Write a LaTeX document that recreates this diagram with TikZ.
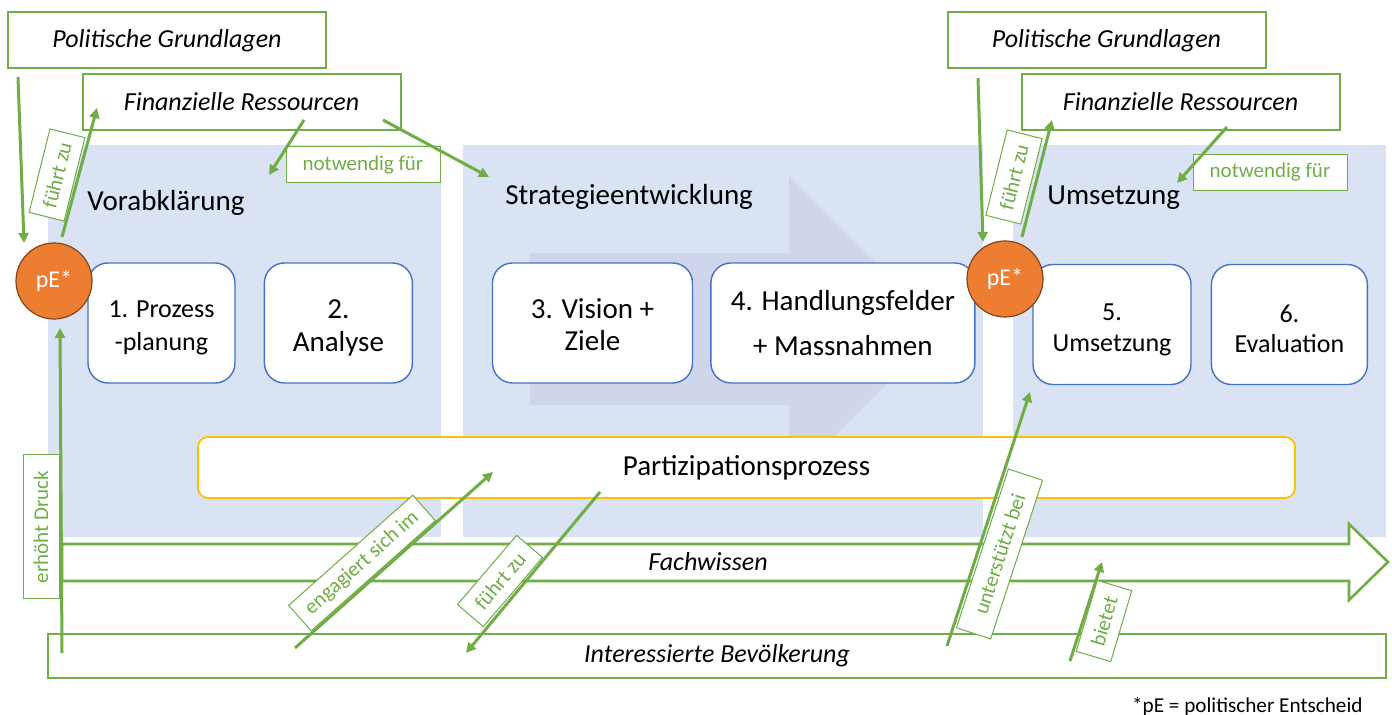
\documentclass[tikz,border=0pt]{standalone}
\usepackage{fontspec}
\setmainfont{Carlito}
\usepackage{xcolor}
\usetikzlibrary{shapes,arrows.meta,positioning}

\definecolor{ogreen}{HTML}{70AD47}
\definecolor{paneblue}{HTML}{DAE3F3}
\definecolor{phaseblue}{HTML}{CFD6EB}
\definecolor{boxblue}{HTML}{4472C4}
\definecolor{ogold}{HTML}{FFC000}
\definecolor{oorange}{HTML}{ED7D31}

\newcommand{\setfs}[2]{\fontsize{#1}{#2}\selectfont}
\newcommand{\lift}[1]{\rule{0pt}{#1}}

\tikzset{
  topbox/.style={rectangle, draw=ogreen, line width=1pt, fill=white, minimum width=159pt, minimum height=28pt, font=\setfs{13}{15}\itshape},
  stepbox/.style={rectangle, rounded corners=10pt, draw=boxblue, line width=0.7pt, fill=white, minimum height=60pt, align=center},
  lbl/.style={rectangle, draw=ogreen, line width=0.5pt, fill=white, text=ogreen, minimum height=18pt, inner sep=1pt, font=\setfs{10.5}{12}},
  flow/.style={draw=ogreen, line width=1.5pt, -{Triangle[length=5pt,width=5pt]}},
  decision/.style={circle, draw=oorange!55!black, fill=oorange, line width=0.6pt, minimum size=38pt, inner sep=0pt, text=white, font=\setfs{12}{14}},
  phase/.style={anchor=base west, inner sep=0pt, font=\setfs{14.5}{17}},
}

\begin{document}
\begin{tikzpicture}[x=0.5pt, y=-0.5pt]
\useasboundingbox (0,0) rectangle (1392,715);

\fill[paneblue] (48,145) rectangle (441,537);
\fill[paneblue] (463,145) rectangle (983,537);
\fill[paneblue] (1013,145) rectangle (1386,537);
\fill[phaseblue] (530,253) -- (789,253) -- (789,176) -- (942,329) -- (789,482) -- (789,405) -- (530,405) -- cycle;

\node (t1) [phase] at (87,211) {Vorabklärung};
\node (t2) [phase] at (505,205) {Strategieentwicklung};
\node (t3) [phase] at (1047,205) {Umsetzung};

\node (s1) [stepbox, minimum width=73.5pt, font=\setfs{13}{16.5}] at (161.5,323) {\lift{13.5pt}1. Prozess\\-planung};
\node (s2) [stepbox, minimum width=74pt, font=\setfs{14.5}{16.5}, right=14pt of s1] {\lift{14pt}2.\\Analyse};
\node (s3) [stepbox, minimum width=100pt, font=\setfs{14.5}{16}] at (592.5,323) {\lift{12pt}3. Vision +\\Ziele};
\node (s4) [stepbox, minimum width=132pt, font=\setfs{14.5}{22.5}, right=8.5pt of s3] {4. Handlungsfelder\\+ Massnahmen};
\node (s5) [stepbox, minimum width=79pt, font=\setfs{13}{15.5}] at (1112,324.5) {\lift{13.5pt}5.\\Umsetzung};
\node (s6) [stepbox, minimum width=78pt, font=\setfs{13}{15}, right=9.5pt of s5] {\lift{13pt}6.\\Evaluation};

\node (part) [rectangle, rounded corners=5pt, draw=ogold, line width=0.9pt, fill=white, minimum width=548.5pt, minimum height=30.5pt, font=\setfs{14.5}{17}] at (746.5,467.5) {Partizipationsprozess};

\draw[ogreen, line width=1.3pt, fill=white] (62,544) -- (1349,544) -- (1349,524) -- (1388,562) -- (1349,600) -- (1349,581) -- (62,581) -- cycle;
\node (fach) [font=\setfs{13}{15}\itshape] at (708,562) {Fachwissen};

\node (bev) [rectangle, draw=ogreen, line width=1.2pt, fill=white, minimum width=669pt, minimum height=22pt, font=\setfs{13}{15}\itshape] at (717,656) {Interessierte Bevölkerung};

\node (pol1) [topbox] at (167,40.5) {Politische Grundlagen};
\node (fin1) [topbox] at (241.5,102) {Finanzielle Ressourcen};
\node (pol2) [topbox] at (1106.5,40.5) {Politische Grundlagen};
\node (fin2) [topbox] at (1180.5,102) {Finanzielle Ressourcen};

\node (nf1) [lbl, minimum width=77pt] at (363,165) {notwendig für};
\node (nf2) [lbl, minimum width=77pt] at (1270,172.5) {notwendig für};
\node (fz1) [lbl, rotate=76, minimum width=43pt] at (57,175) {führt zu};
\node (fz2) [lbl, rotate=76, minimum width=44pt] at (1014,177) {führt zu};
\node (ed) [lbl, rotate=90, minimum width=72pt] at (41,527) {erhöht Druck};
\node (es) [lbl, rotate=41.6, minimum width=83pt, minimum height=17pt] at (362,563) {engagiert sich im};
\node (fz3) [lbl, rotate=49.5, minimum width=45.5pt, minimum height=17pt] at (500,581) {führt zu};
\node (ub) [lbl, rotate=71.9, minimum width=83.5pt] at (999.5,554) {unterstützt bei};
\node (bt) [lbl, rotate=73.5, minimum width=37pt] at (1104,621) {bietet};

\node (pe1) [decision] at (54,281) {pE*};
\node (pe2) [decision] at (1005,279) {pE*};

\coordinate (a1s) at (18,77);    \coordinate (a1e) at (24,243);
\coordinate (a2s) at (62,237);   \coordinate (a2e) at (97,108);
\coordinate (a3s) at (304,120);  \coordinate (a3e) at (269,175);
\coordinate (a4s) at (383,120);  \coordinate (a4e) at (489,177);
\coordinate (a5s) at (978,78);   \coordinate (a5e) at (983,242);
\coordinate (a6s) at (1022,237); \coordinate (a6e) at (1052,120);
\coordinate (a7s) at (1227,127); \coordinate (a7e) at (1177,183);
\coordinate (a8s) at (62,653);   \coordinate (a8e) at (60,328);
\coordinate (a9s) at (295,648);  \coordinate (a9e) at (493,472);
\coordinate (a10s) at (600,492); \coordinate (a10e) at (466,653);
\coordinate (a11s) at (947,646); \coordinate (a11e) at (1030,392);
\coordinate (a12s) at (1070,661); \coordinate (a12e) at (1102,562);

\foreach \i in {1,...,12}
  \draw[flow] (a\i s) -- (a\i e);

\node (note) [anchor=base east, inner sep=0pt, font=\setfs{10.6}{12}] at (1363,712) {*pE = politischer Entscheid};
\end{tikzpicture}
\end{document}
